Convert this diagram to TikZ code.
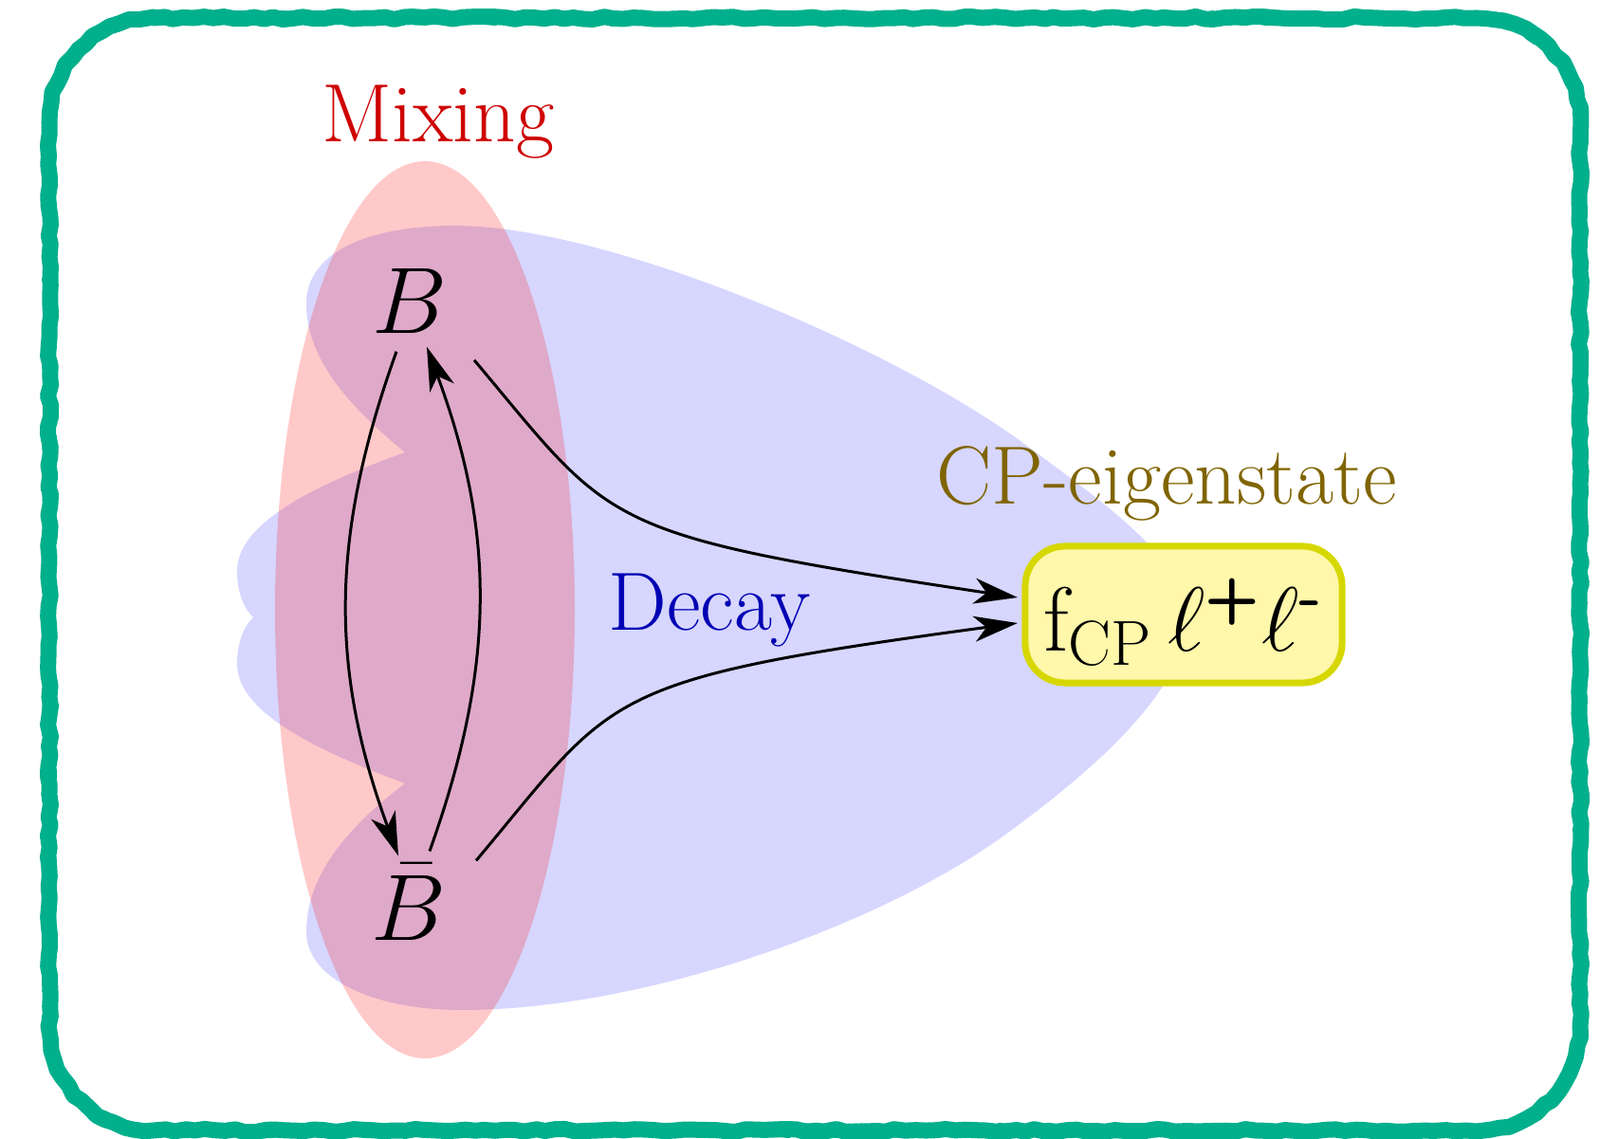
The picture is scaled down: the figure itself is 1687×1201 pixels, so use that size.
\RequirePackage{fix-cm}
\documentclass[tikz,border=0pt]{standalone}
\usepackage{amsmath}
\usetikzlibrary{arrows.meta,calc,decorations.pathmorphing}
\definecolor{chalk}{RGB}{0,175,140}
\definecolor{mixred}{RGB}{206,0,0}
\definecolor{decayblue}{RGB}{0,0,180}
\definecolor{cpbrown}{RGB}{128,100,0}
\definecolor{boxline}{RGB}{215,215,0}
\definecolor{boxfill}{RGB}{255,247,170}
\newcommand{\chalkpath}{(162,19) -- (1556,19) .. controls (1617,19) and (1666,68) .. (1666,129) -- (1666,1082) .. controls (1666,1143) and (1617,1192) .. (1556,1192) -- (162,1192) .. controls (101,1192) and (52,1143) .. (52,1082) -- (52,129) .. controls (52,68) and (101,19) .. (162,19) -- cycle}
\begin{document}
\begin{tikzpicture}[x=0.01cm,y=-0.01cm,
  lbl/.style={font=\fontsize{24.8}{29}\selectfont, inner sep=0pt, anchor=base},
  meson/.style={font=\fontsize{28.3}{33}\selectfont, inner sep=0pt, anchor=base},
  arr/.style={-{Stealth[length=0.46cm,width=0.27cm,inset=0.13cm]}, line width=0.03cm},
  fbox/.style={draw=boxline, fill=boxfill, line width=0.07cm, rounded corners=0.42cm,
    minimum width=3.34cm, minimum height=1.44cm, inner sep=0pt, outer sep=0pt,
    text height=26pt, text depth=4pt, font=\fontsize{27.3}{32}\selectfont},
  chalkline/.style={draw=chalk, decorate, line join=round, line cap=round}]
\useasboundingbox (0,0) rectangle (1687,1201);
% Decay region
\fill[blue, opacity=0.16] (427,477) .. controls (370,430) and (323,380) .. (323,320)
  .. controls (323,265) and (390,238) .. (480,238)
  .. controls (640,238) and (940,365) .. (1080,468)
  .. controls (1150,520) and (1252,590) .. (1252,648)
  .. controls (1252,720) and (1170,800) .. (1060,880)
  .. controls (930,975) and (680,1065) .. (487,1065)
  .. controls (390,1065) and (323,1030) .. (323,983)
  .. controls (323,920) and (370,870) .. (427,826)
  .. controls (330,790) and (250,750) .. (250,700)
  .. controls (250,675) and (258,660) .. (267,651)
  .. controls (258,642) and (250,627) .. (250,602)
  .. controls (250,552) and (330,512) .. (427,477) -- cycle;
% Mixing region
\fill[red, opacity=0.21] (448,643) ellipse [x radius=158, y radius=473];
% chalk frame
\path[chalkline, line width=0.17cm, decoration={random steps,segment length=3pt,amplitude=0.45pt}] \chalkpath;
\path[chalkline, line width=0.11cm, decoration={random steps,segment length=2pt,amplitude=0.8pt}] \chalkpath;
% labels
\node[lbl, text=mixred] (mix) at (462,150) {Mixing};
\node[lbl, text=decayblue] (decay) at (748,665) {Decay};
\node[lbl, text=cpbrown] (cp) at (1230,532) {CP-eigenstate};
\node[meson] (B) at (432,352) {$B$};
\node[meson] (Bbar) at (431,992) {$\bar{B}$};
\node[fbox] (box) at (1248,648) {$\mathrm{f}_{\mathrm{CP}}\,\ell^{\textsf{\bfseries +}}\ell^{\textsf{\bfseries -}}$};
% connectors
\draw[arr] ($(B.south)+(-14,18)$) to[bend right=20] ($(Bbar.north)+(-11,-8)$);
\draw[arr] ($(Bbar.north)+(22,-13)$) to[bend right=20] ($(B.south)+(18,13)$);
\draw[arr] ($(B.south)+(68,27)$) .. controls +(148,176) and +(-445,-67) .. ($(box.west)+(-8,-18)$);
\draw[arr] ($(Bbar.north)+(71,-3)$) .. controls +(148,-176) and +(-445,60) .. ($(box.west)+(-8,9)$);
\end{tikzpicture}
\end{document}
